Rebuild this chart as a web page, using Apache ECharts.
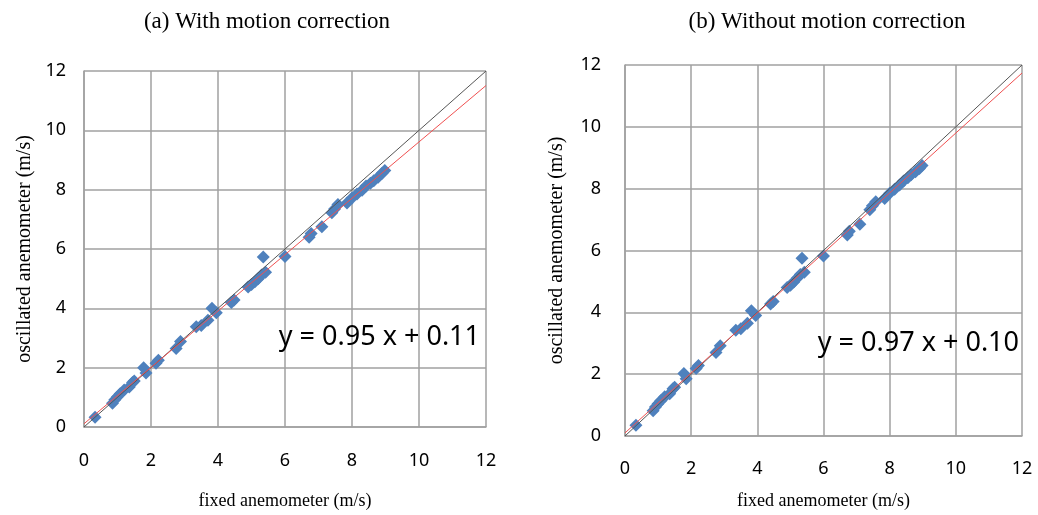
<!DOCTYPE html>
<html>
<head>
<meta charset="utf-8">
<script src="https://cdn.jsdelivr.net/npm/echarts@6/dist/echarts.min.js"></script>
<style>
  html, body { margin: 0; padding: 0; background: #fff; }
  #main { width: 1038px; height: 515px; }
</style>
</head>
<body>
<div id="main"></div>
<script>
// axis ticks (both panels)
var ticks = [0, 2, 4, 6, 8, 10, 12];

// (a) with motion correction: [fixed, oscillated]
var pointsA = [
  [0.33, 0.33], [0.85, 0.80], [0.92, 0.92], [1.00, 1.02], [1.08, 1.12], [1.20, 1.25],
  [1.35, 1.35], [1.45, 1.50], [1.50, 1.55], [1.78, 2.00], [1.85, 1.82], [2.15, 2.15],
  [2.22, 2.25], [2.75, 2.65], [2.88, 2.88], [3.35, 3.38], [3.50, 3.42], [3.70, 3.60],
  [3.82, 4.00], [3.95, 3.85], [4.40, 4.20], [4.48, 4.28], [4.90, 4.72], [5.00, 4.80],
  [5.10, 4.90], [5.20, 5.00], [5.30, 5.12], [5.35, 5.73], [5.42, 5.22], [6.00, 5.75],
  [6.72, 6.40], [6.78, 6.52], [7.10, 6.75], [7.40, 7.22], [7.48, 7.35], [7.58, 7.50],
  [7.85, 7.55], [8.00, 7.72], [8.15, 7.85], [8.30, 7.98], [8.42, 8.12], [8.55, 8.22],
  [8.65, 8.30], [8.78, 8.42], [8.90, 8.55], [8.98, 8.65]
];

// (b) without motion correction
var pointsB = [
  [0.33, 0.35], [0.85, 0.82], [0.92, 0.94], [1.00, 1.04], [1.08, 1.14], [1.20, 1.27],
  [1.35, 1.37], [1.45, 1.53], [1.50, 1.58], [1.78, 2.02], [1.85, 1.85], [2.15, 2.18],
  [2.22, 2.28], [2.75, 2.70], [2.88, 2.92], [3.35, 3.42], [3.50, 3.47], [3.70, 3.65],
  [3.82, 4.05], [3.95, 3.90], [4.40, 4.27], [4.48, 4.35], [4.90, 4.80], [5.00, 4.88],
  [5.10, 4.98], [5.20, 5.10], [5.30, 5.22], [5.35, 5.75], [5.42, 5.30], [6.00, 5.82],
  [6.72, 6.50], [6.78, 6.62], [7.10, 6.85], [7.40, 7.32], [7.48, 7.45], [7.58, 7.58],
  [7.85, 7.68], [8.00, 7.85], [8.15, 7.98], [8.30, 8.12], [8.42, 8.25], [8.55, 8.35],
  [8.65, 8.45], [8.78, 8.55], [8.90, 8.65], [8.98, 8.75]
];

// 1:1 line and linear fits (end points)
var identityLine = [[0, 0], [12, 12]];
var fitA = [[0, 0.11], [12, 11.51]];
var fitB = [[0, 0.10], [12, 11.74]];

var eqA = 'y = 0.95 x + 0.11';
var eqB = 'y = 0.97 x + 0.10';

var serif = '"Liberation Serif", "DejaVu Serif", serif';
var sans = '"Noto Sans", sans-serif';
var gridColor = '#a0a0a0';

function makeAxis(gridIndex, nameGap, labelMargin, name, nameSize) {
  return {
    type: 'value', gridIndex: gridIndex, min: 0, max: 12, interval: 2,
    name: name, nameLocation: 'middle', nameGap: nameGap,
    nameTextStyle: { fontFamily: serif, fontSize: nameSize, color: '#000' },
    axisLine: { show: true, lineStyle: { color: gridColor, width: 1.5 } },
    axisTick: { show: false },
    axisLabel: { margin: labelMargin, fontFamily: sans, fontSize: 18, color: '#000' },
    splitLine: { show: true, lineStyle: { color: gridColor, width: 1.5 } }
  };
}

var chart = echarts.init(document.getElementById('main'));
chart.setOption({
  animation: false,
  backgroundColor: '#fff',
  title: [
    { text: '(a) With motion correction', left: 262, top: 5, textAlign: 'center',
      textStyle: { fontFamily: serif, fontSize: 23, fontWeight: 'normal', color: '#000' } },
    { text: '(b) Without motion correction', left: 822, top: 5, textAlign: 'center',
      textStyle: { fontFamily: serif, fontSize: 23, fontWeight: 'normal', color: '#000' } }
  ],
  grid: [
    { left: 84, top: 71, width: 402, height: 356 },
    { left: 625, top: 65, width: 397, height: 371 }
  ],
  xAxis: [
    makeAxis(0, 65, 25, 'fixed anemometer (m/s)', 18),
    makeAxis(1, 56, 24, 'fixed anemometer (m/s)', 18)
  ],
  yAxis: [
    makeAxis(0, 49, 18, 'oscillated anemometer (m/s)', 20),
    makeAxis(1, 58, 24, 'oscillated anemometer (m/s)', 20)
  ],
  graphic: [
    { type: 'text', right: 1038 - 480, top: 324, z: 10,
      style: { text: eqA, font: '27px "Noto Sans", sans-serif', fill: '#000' } },
    { type: 'text', right: 1038 - 1019, top: 330, z: 10,
      style: { text: eqB, font: '27px "Noto Sans", sans-serif', fill: '#000' } }
  ],
  series: [
    { type: 'scatter', xAxisIndex: 0, yAxisIndex: 0, data: pointsA,
      symbol: 'diamond', symbolSize: 13, itemStyle: { color: '#4f81bd', opacity: 1 }, z: 2 },
    { type: 'line', xAxisIndex: 0, yAxisIndex: 0, data: identityLine, symbol: 'none',
      lineStyle: { color: '#555', width: 1 }, z: 3 },
    { type: 'line', xAxisIndex: 0, yAxisIndex: 0, data: fitA, symbol: 'none',
      lineStyle: { color: '#f05050', width: 1 }, z: 4 },
    { type: 'scatter', xAxisIndex: 1, yAxisIndex: 1, data: pointsB,
      symbol: 'diamond', symbolSize: 13, itemStyle: { color: '#4f81bd', opacity: 1 }, z: 2 },
    { type: 'line', xAxisIndex: 1, yAxisIndex: 1, data: identityLine, symbol: 'none',
      lineStyle: { color: '#555', width: 1 }, z: 3 },
    { type: 'line', xAxisIndex: 1, yAxisIndex: 1, data: fitB, symbol: 'none',
      lineStyle: { color: '#f05050', width: 1 }, z: 4 }
  ]
});
</script>
</body>
</html>
